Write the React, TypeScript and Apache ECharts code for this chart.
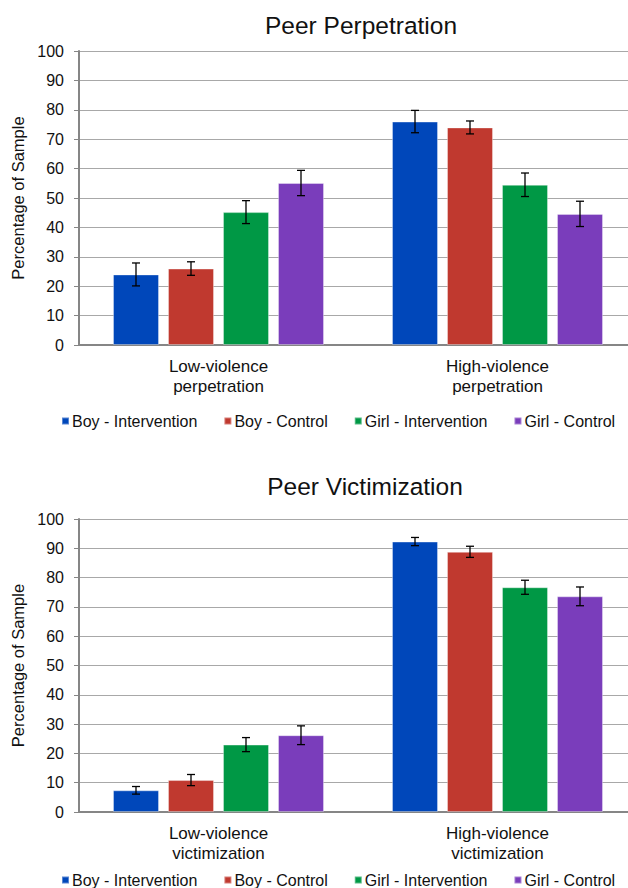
import React, { useEffect, useRef } from "react";
import * as echarts from "echarts";

const seriesNames = ["Boy - Intervention", "Boy - Control", "Girl - Intervention", "Girl - Control"];
const colors = ["#0047BA", "#C0392F", "#009845", "#7A3DBB"];

const perpCategories = ["Low-violence\nperpetration", "High-violence\nperpetration"];
const perpValues = [
  [24, 76],
  [26, 74],
  [45.2, 54.5],
  [55.1, 44.6],
];
const perpErrors = [
  [3.9, 3.8],
  [2.3, 2.2],
  [3.9, 4.0],
  [4.3, 4.3],
];

const victCategories = ["Low-violence\nvictimization", "High-violence\nvictimization"];
const victValues = [
  [7.4, 92.3],
  [10.9, 88.8],
  [23.0, 76.7],
  [26.2, 73.6],
];
const victErrors = [
  [1.3, 1.4],
  [1.9, 1.9],
  [2.4, 2.4],
  [3.2, 3.2],
];

const yTicks = { min: 0, max: 100, interval: 10 };

const BAR_W = 46;
const BAR_SPACE = 9;
const FONT = "Liberation Sans, Arial, sans-serif";

function errorData(values: number[][], errors: number[][]) {
  const out: number[][] = [];
  values.forEach((row, s) => {
    row.forEach((v, c) => {
      out.push([c, s, v - errors[s][c], v + errors[s][c]]);
    });
  });
  return out;
}

function renderError(params: any, api: any) {
  const cat = api.value(0);
  const s = api.value(1);
  const lo = api.coord([cat, api.value(2)]);
  const hi = api.coord([cat, api.value(3)]);
  const x = lo[0] + (s - 1.5) * (BAR_W + BAR_SPACE);
  const cap = 4;
  const style = { stroke: "#000", lineWidth: 1.3 };
  return {
    type: "group",
    children: [
      { type: "line", shape: { x1: x, y1: lo[1], x2: x, y2: hi[1] }, style },
      { type: "line", shape: { x1: x - cap, y1: lo[1], x2: x + cap, y2: lo[1] }, style },
      { type: "line", shape: { x1: x - cap, y1: hi[1], x2: x + cap, y2: hi[1] }, style },
    ],
  };
}

export default function App() {
  const ref = useRef<HTMLDivElement>(null);
  useEffect(() => {
    if (!ref.current) return;
    const chart = echarts.init(ref.current, undefined, { renderer: "svg" });
    const xAxisCommon = (data: string[], gridIndex: number) => ({
      type: "category",
      gridIndex,
      data,
      axisLine: { show: true, lineStyle: { color: "#868686", width: 2 } },
      axisTick: { show: false },
      axisLabel: {
        color: "#111",
        fontSize: 17,
        fontFamily: FONT,
        lineHeight: 19.5,
        margin: 12,
      },
    });
    const yAxisCommon = (gridIndex: number) => ({
      type: "value",
      gridIndex,
      ...yTicks,
      name: "Percentage of Sample",
      nameLocation: "middle",
      nameRotate: 90,
      nameGap: 50,
      nameTextStyle: { color: "#111", fontSize: 16.5, fontFamily: FONT },
      axisLine: { show: true, lineStyle: { color: "#868686", width: 2 } },
      axisTick: { show: true, length: 5, lineStyle: { color: "#868686", width: 1 } },
      axisLabel: { color: "#111", fontSize: 16, fontFamily: FONT, margin: 15 },
      splitLine: { show: true, lineStyle: { color: "#a8a8a8", width: 1 } },
    });
    const barSeries = (values: number[][], idx: number) =>
      values.map((row, s) => ({
        type: "bar",
        name: seriesNames[s],
        xAxisIndex: idx,
        yAxisIndex: idx,
        data: row,
        barWidth: BAR_W,
        barGap: (BAR_SPACE / BAR_W) * 100 + "%",
        itemStyle: { color: colors[s], borderColor: "rgba(255,255,255,0.35)", borderWidth: 1 },
      }));
    const legendCommon = (top: number) => ({
      top,
      left: 56,
      icon: "rect",
      itemWidth: 7,
      itemHeight: 7,
      itemGap: 26,
      data: seriesNames,
      textStyle: { color: "#111", fontSize: 16, fontFamily: FONT, padding: [0, 0, 0, -2] },
    });
    chart.setOption({
      animation: false,
      backgroundColor: "#fff",
      title: [
        {
          text: "Peer Perpetration",
          left: 356,
          top: 8,
          textAlign: "center",
          textStyle: { color: "#111", fontSize: 24.5, fontWeight: "normal", fontFamily: FONT },
        },
        {
          text: "Peer Victimization",
          left: 360,
          top: 469,
          textAlign: "center",
          textStyle: { color: "#111", fontSize: 24.5, fontWeight: "normal", fontFamily: FONT },
        },
      ],
      legend: [legendCommon(408), legendCommon(867)],
      grid: [
        { left: 79, top: 51, width: 558, height: 294 },
        { left: 79, top: 519, width: 558, height: 293 },
      ],
      xAxis: [xAxisCommon(perpCategories, 0), xAxisCommon(victCategories, 1)],
      yAxis: [yAxisCommon(0), yAxisCommon(1)],
      series: [
        ...barSeries(perpValues, 0),
        ...barSeries(victValues, 1),
        {
          type: "custom",
          xAxisIndex: 0,
          yAxisIndex: 0,
          renderItem: renderError,
          encode: { x: 0, y: [2, 3] },
          data: errorData(perpValues, perpErrors),
          z: 10,
        },
        {
          type: "custom",
          xAxisIndex: 1,
          yAxisIndex: 1,
          renderItem: renderError,
          encode: { x: 0, y: [2, 3] },
          data: errorData(victValues, victErrors),
          z: 10,
        },
      ],
    });
    return () => chart.dispose();
  }, []);
  return (
    <div style={{ position: "fixed", left: 0, top: 0, width: 628, height: 888, overflow: "hidden", background: "#fff" }}>
      <div ref={ref} style={{ width: 637, height: 888 }} />
    </div>
  );
}
